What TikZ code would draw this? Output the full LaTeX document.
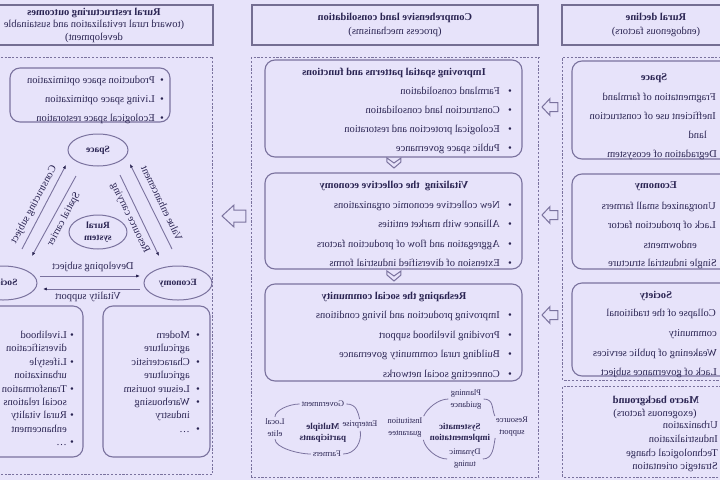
\documentclass[tikz,border=0pt]{standalone}
\usepackage{fontspec}
\setmainfont{Liberation Serif}
\usetikzlibrary{shapes.geometric,arrows.meta}
\definecolor{bgc}{RGB}{231,227,250}
\definecolor{lnc}{RGB}{122,114,158}
\definecolor{hdc}{RGB}{116,110,146}
\definecolor{txc}{RGB}{42,36,82}
\newcommand{\fsz}[2]{\fontsize{#1}{#2}\selectfont}
\begin{document}
\begin{tikzpicture}[x=1pt, y=-1pt, xscale=-1,
  every node/.append style={transform shape, text=txc},
  hdr/.style={draw=hdc, line width=1.7pt, fill=bgc, minimum height=40pt, align=center, inner sep=0pt},
  dbox/.style={draw=lnc, line width=1pt, dash pattern=on 2.2pt off 1.6pt},
  rbox/.style={draw=lnc, line width=1.1pt, rounded corners=10pt},
  itm/.style={anchor=base west, inner sep=0pt, font=\fsz{10.5}{12}},
  ctr/.style={anchor=base, inner sep=0pt, font=\fsz{10.5}{12}},
  ttl/.style={anchor=base, inner sep=0pt, font=\bfseries\fsz{10.5}{12}},
  bul/.style={anchor=base, inner sep=0pt, font=\fsz{10.5}{12}},
  ell/.style={ellipse, draw=lnc, line width=1pt, inner sep=0pt, align=center, font=\bfseries\fsz{9.5}{11.5}},
  lbl/.style={inner sep=0pt, font=\fsz{10.5}{12}},
  sml/.style={inner sep=0.5pt, align=center, font=\fsz{8.5}{12}},
  cen/.style={inner sep=0.5pt, align=center, font=\bfseries\fsz{9}{11.5}},
  tl/.style={draw=lnc, line width=0.9pt, -{Latex[length=3.8pt,width=3.2pt,color=txc]}},
  arcl/.style={draw=lnc, line width=0.8pt, shorten <=1.5pt, shorten >=1.5pt},
  blk/.style={draw=lnc, line width=1pt, fill=bgc, line join=miter}
]
\fill[bgc] (0,0) rectangle (720,480);
\useasboundingbox (0,0) rectangle (720,480);

% ---------- headers ----------
\node[hdr, minimum width=188pt, font=\fsz{10.5}{14}] (hA) at (64,25) {\textbf{Rural decline}\\(endogenous factors)};
\node[hdr, minimum width=286pt, font=\fsz{10.5}{14}] (hB) at (325,25) {\textbf{Comprehensive land consolidation}\\(process mechanisms)};
\node[hdr, minimum width=238pt, font=\fsz{10.5}{12.5}] (hC) at (626,25) {\textbf{Rural restructuring outcomes}\\(toward rural revitalization and sustainable\\development)};

% ---------- containers ----------
\draw[dbox] (-10,57) rectangle (157,380);
\draw[dbox] (-10,386) rectangle (157,477);
\draw[dbox] (181,57) rectangle (468,477);
\draw[dbox] (507,57) rectangle (730,474);

% ---------- left column ----------
\draw[rbox] (-22,61) rectangle (148,159);
\draw[rbox] (-22,174) rectangle (148,269);
\draw[rbox] (-22,283) rectangle (148,376);

\node[ttl] (lsT) at (66,80.5) {Space};
\node[itm] (ls1) at (4,100.5) {Fragmentation of farmland};
\node[itm] (ls2) at (4,119.5) {Inefficient use of construction};
\node[itm] (ls3) at (13,138.5) {land};
\node[itm] (ls4) at (3,157.5) {Degradation of ecosystem};

\node[ttl] (leT) at (64,188.5) {Economy};
\node[itm] (le1) at (4,209.5) {Unorganized small farmers};
\node[itm] (le2) at (4,228.5) {Lack of production factor};
\node[itm] (le3) at (23,248.5) {endowments};
\node[itm] (le4) at (3,266.5) {Single industrial structure};

\node[ttl] (loT) at (64,298.5) {Society};
\node[itm] (lo1) at (4,316.5) {Collapse of the traditional};
\node[itm] (lo2) at (3,336.5) {community};
\node[itm] (lo3) at (3,356.5) {Weakening of public services};
\node[itm] (lo4) at (3,375.5) {Lack of governance subject};

\node[ttl] (mbT) at (64,403.5) {Macro background};
\node[ctr] (mbS) at (65,416.5) {(exogenous factors)};
\node[itm] (mb1) at (2,428.5) {Urbanization};
\node[itm] (mb2) at (2,442.5) {Industrialization};
\node[itm] (mb3) at (2,456) {Technological change};
\node[itm] (mb4) at (2,469.5) {Strategic orientation};

% ---------- block arrows ----------
\foreach \yy [count=\i] in {107,215,315}{
  \coordinate (ar\i) at (162,\yy);
  \draw[blk] (ar\i) ++(0,-4.5) -- ++(8,0) -- ++(0,-4) -- ++(8,8.5) -- ++(-8,8.5) -- ++(0,-4) -- ++(-8,0) -- cycle;
}
\coordinate (arB) at (474,216);
\draw[blk] (arB) ++(0,-6) -- ++(12,0) -- ++(0,-5) -- ++(12,11) -- ++(-12,11) -- ++(0,-5) -- ++(-12,0) -- cycle;

% ---------- middle column ----------
\draw[rbox] (198,60) rectangle (455,157);
\draw[rbox] (198,173) rectangle (455,269);
\draw[rbox] (198,284) rectangle (455,381);

\foreach \yy [count=\i] in {162,275}{
  \coordinate (ch\i) at (326,\yy);
  \draw[blk] (ch\i) ++(-7,-4) -- ++(7,5) -- ++(7,-5) -- ++(0,4) -- ++(-7,6) -- ++(-7,-6) -- cycle;
}

\node[ttl] (m1T) at (326,75.5) {Improving spatial patterns and functions};
\foreach \t [count=\i] in {Farmland consolidation, Construction land consolidation, Ecological protection and restoration, Public space governance}{
  \node[itm] (m1i\i) at (220,{75.5+19*\i}) {\t};
  \node[bul] (m1b\i) at (210,{75.5+19*\i}) {\textbullet};
}
\node[ttl] (m2T) at (326,188.5) {Vitalizing\ \ the collective economy};
\foreach \t [count=\i] in {New collective economic organizations, Alliance with market entities, Aggregation and flow of production factors, Extension of diversified industrial forms}{
  \node[itm] (m2i\i) at (220,{188.5+19.5*\i}) {\t};
  \node[bul] (m2b\i) at (210,{188.5+19.5*\i}) {\textbullet};
}
\node[ttl] (m3T) at (326,299.5) {Reshaping the social community};
\foreach \t [count=\i] in {Improving production and living conditions, Providing livelihood support, Building rural community governance, Connecting social networks}{
  \node[itm] (m3i\i) at (220,{299.5+19.4*\i}) {\t};
  \node[bul] (m3b\i) at (210,{299.5+19.4*\i}) {\textbullet};
}

% systematic implementation cycle
\node[cen] (si) at (260,433) {Systematic\\implementation};
\node[sml] (pla) at (254,399) {Planning\\guidance};
\node[sml] (res) at (208,427) {Resource\\support};
\node[sml] (dyn) at (255,459) {Dynamic\\tuning};
\node[sml] (ins) at (315,428) {Institution\\guarantee};
\draw[arcl] (pla.east) .. controls +(12,0) and +(-4,-9) .. (ins.150);
\draw[arcl] (pla.west) .. controls +(-12,0) and +(4,-9) .. (res.30);
\draw[arcl] (ins.-150) .. controls +(-2,10) and +(12,0) .. (dyn.east);
\draw[arcl] (res.-30) .. controls +(2,10) and +(-12,0) .. (dyn.west);

% multiple participants cycle
\node[cen] (mp) at (397,433) {Multiple\\participants};
\node[sml] (gov) at (397,404) {Government};
\node[sml] (loc) at (445,428) {Local\\elite};
\node[sml] (far) at (393,454) {Farmers};
\node[sml] (ent) at (360,425) {Enterprise};
\draw[arcl] (gov.east) .. controls +(12,0) and +(0,-8) .. (loc.north);
\draw[arcl] (gov.west) .. controls +(-12,0) and +(2,-8) .. (ent.north);
\draw[arcl] (loc.south) .. controls +(0,10) and +(14,0) .. (far.east);
\draw[arcl] (ent.south) .. controls +(-2,12) and +(-14,0) .. (far.west);

% ---------- right column ----------
\draw[rbox] (550,68) rectangle (710,122);
\foreach \t [count=\i] in {Production space optimization, Living space optimization, Ecological space restoration}{
  \node[itm] (rt\i) at (565,{64.5+19*\i}) {\t};
  \node[bul] (rb\i) at (558,{64.5+19*\i}) {\textbullet};
}

\node[ell, minimum width=60pt, minimum height=32pt] (sp) at (622,150) {Space};
\node[ell, minimum width=58pt, minimum height=34pt] (rs) at (622,232) {Rural\\system};
\node[ell, minimum width=68pt, minimum height=34pt] (ec) at (542,283) {Economy};
\node[ell, minimum width=68pt, minimum height=34pt] (so) at (717,283) {Society};

\coordinate (l1a) at (548,249); \coordinate (l1b) at (590,164);
\coordinate (l2a) at (600,175); \coordinate (l2b) at (561,256);
\draw[tl] (l1a) -- (l1b);
\draw[tl] (l2a) -- (l2b);
\node[lbl, rotate=64] (lv) at (558,203) {Value enhancement};
\node[lbl, rotate=64] (lrc) at (590,218) {Resource carrying};

\coordinate (l3a) at (698,249); \coordinate (l3b) at (654,165);
\coordinate (l4a) at (644,176); \coordinate (l4b) at (688,256);
\draw[tl] (l3a) -- (l3b);
\draw[tl] (l4a) -- (l4b);
\node[lbl, rotate=-62] (lcs) at (686,205) {Constructing subject};
\node[lbl, rotate=-62] (lsc) at (656,219) {Spatial carrier};

\coordinate (l5a) at (680,276); \coordinate (l5b) at (580,276);
\coordinate (l6a) at (580,289); \coordinate (l6b) at (677,289);
\draw[tl] (l5a) -- (l5b);
\draw[tl] (l6a) -- (l6b);
\node[lbl] (lds) at (627,267) {Developing subject};
\node[lbl] (lvs) at (632,297) {Vitality support};

\draw[rbox] (510,306) rectangle (617,457);
\draw[rbox] (637,306) rectangle (760,457);
\foreach \t [count=\i] in {Modern, agriculture, Characteristic, agriculture, Leisure tourism, Warehousing, industry, \ldots}{
  \node[itm] (ind\i) at (530,{325.1+13.4*\i}) {\t};
}
\foreach \i in {1,3,5,6,8}{
  \node[bul] (indb\i) at (522,{325.1+13.4*\i}) {\textbullet};
}
\foreach \t [count=\i] in {Livelihood, diversification, Lifestyle, urbanization, Transformation of, social relations, Rural vitality, enhancement, \ldots}{
  \node[itm] (soc\i) at (653,{325.1+13.4*\i}) {\t};
}
\foreach \i in {1,3,5,7,9}{
  \node[bul] (socb\i) at (648,{325.1+13.4*\i}) {\textbullet};
}
\end{tikzpicture}
\end{document}
